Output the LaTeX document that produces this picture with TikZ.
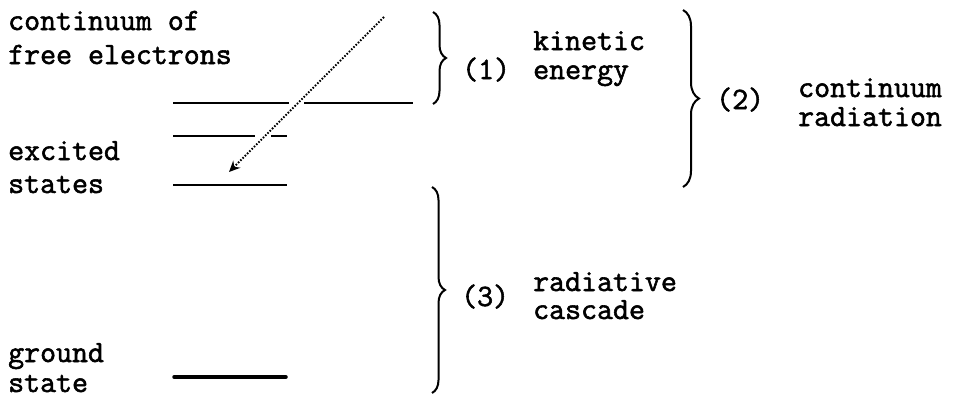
\documentclass[tikz,border=0pt]{standalone}
\usepackage{fontspec}
\newfontfamily\twfont[FakeBold=1.8]{Latin Modern Mono}
\usetikzlibrary{arrows.meta,decorations.pathreplacing}
\tikzset{
  lbl/.style={anchor=base west, inner sep=0pt, font=\twfont\bfseries\fontsize{31}{33}\selectfont},
  level/.style={line width=1.3pt},
  ground/.style={line width=3.5pt, line cap=round},
  brc/.style={decorate, decoration={brace, amplitude=#1}, line width=2pt},
  capture/.style={dash pattern=on 1.6pt off 1.6pt, line width=1.8pt, -{Stealth[length=11pt,width=10pt]}}
}
\begin{document}
\begin{tikzpicture}[x=1pt,y=-1pt]
\useasboundingbox (0,0) rectangle (956,399);
% left labels
\node[lbl] (c1) at (8,30) {continuum of};
\node[lbl] (c2) at (8,64) {free electrons};
\node[lbl] (e1) at (8,160) {excited};
\node[lbl] (e2) at (8,193) {states};
\node[lbl] (g1) at (8,362) {ground};
\node[lbl] (g2) at (8,392) {state};
% levels
\draw[level] (173,103) -- (289,103);
\draw[level] (304,103) -- (413,103);
\draw[level] (173,136) -- (255,136);
\draw[level] (271,136) -- (287,136);
\draw[level] (173,185) -- (287,185);
\draw[ground] (174,377) -- (286,377);
% arrow
\coordinate (aS) at (384,17);
\coordinate (aE) at (229,172);
\draw[capture] (aS) -- (aE);
% braces
\draw[brc=13pt] (433,12) -- (433,104);
\draw[brc=16pt] (683,10) -- (683,187);
\draw[brc=13pt] (432,187) -- (432,393);
% right labels
\node[lbl] (p1) at (462,79) {(1)};
\node[lbl] (k1) at (533,50) {kinetic};
\node[lbl] (k2) at (533,79) {energy};
\node[lbl] (p2) at (716,109) {(2)};
\node[lbl] (r1) at (798,97) {continuum};
\node[lbl] (r2) at (798,126) {radiation};
\node[lbl] (p3) at (461,306) {(3)};
\node[lbl] (d1) at (533,291) {radiative};
\node[lbl] (d2) at (533,319) {cascade};
\end{tikzpicture}
\end{document}
